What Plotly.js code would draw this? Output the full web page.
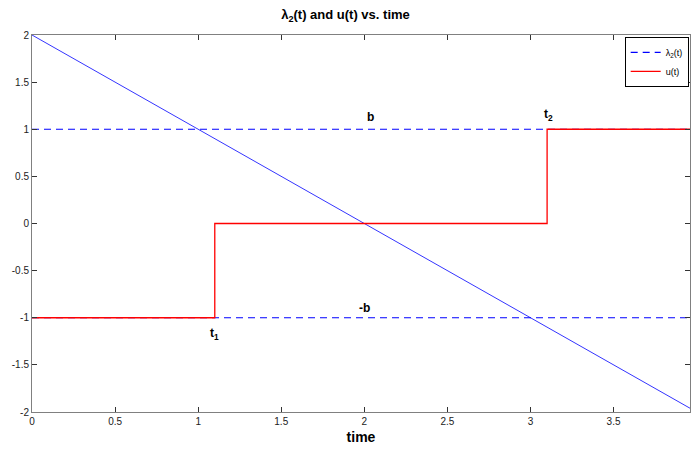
<!DOCTYPE html>
<html><head><meta charset="utf-8">
<script src="https://cdn.plot.ly/plotly-3.0.1.min.js"></script>
<style>html,body{margin:0;padding:0;background:#fff}#c{width:691px;height:451px}</style>
</head><body><div id="c"></div>
<script>
var tLambda = [0, 3.96];
var lambda2 = [2, -1.96];
var tBound = [0, 3.96];
var bUpper = [1, 1];
var bLower = [-1, -1];
var tU = [0, 1.1, 3.1, 3.96];
var uVals = [-1, 0, 1, 1];
var xTicks = [0, 0.5, 1, 1.5, 2, 2.5, 3, 3.5];
var yTicks = [-2, -1.5, -1, -0.5, 0, 0.5, 1, 1.5, 2];
var labels = [
  {x: 2.04, y: 1.13, text: 'b'},
  {x: 3.11, y: 1.15, text: 't<sub>2</sub>'},
  {x: 2.0, y: -0.9, text: '-b'},
  {x: 1.1, y: -1.17, text: 't<sub>1</sub>'}
];

var font = 'Liberation Sans, Arial, sans-serif';
var traces = [
  {x: tBound, y: bUpper, mode: 'lines', name: '&#955;<sub>2</sub>(t)', line: {color: '#0000ff', width: 1.2, dash: '7px,5px'}},
  {x: tBound, y: bLower, mode: 'lines', showlegend: false, line: {color: '#0000ff', width: 1.2, dash: '7px,5px'}},
  {x: tLambda, y: lambda2, mode: 'lines', showlegend: false, line: {color: '#0000ff', width: 0.8}},
  {x: tU, y: uVals, mode: 'lines', name: 'u(t)', line: {color: 'rgb(255,0,0)', width: 1.3, shape: 'hv'}}
];
function axisCommon() {
  return {
    showgrid: false, zeroline: false, zerolinecolor: 'rgba(0,0,0,0)', zerolinewidth: 0,
    showline: true, linecolor: '#808080', linewidth: 1,
    mirror: 'ticks', ticks: 'inside', ticklen: 5, tickcolor: '#333', tickwidth: 1,
    tickfont: {family: font, size: 10, color: '#222'}
  };
}
var xa = axisCommon();
xa.range = [0, 3.96]; xa.tickvals = xTicks; xa.ticktext = xTicks.map(String);
xa.title = {text: '<b>time</b>', font: {family: font, size: 14, color: '#000'}, standoff: 6};
var ya = axisCommon();
ya.range = [-2, 2]; ya.tickvals = yTicks; ya.ticktext = yTicks.map(String);
var layout = {
  width: 691, height: 451,
  margin: {l: 32, r: 1, t: 35, b: 39},
  paper_bgcolor: '#fff', plot_bgcolor: '#fff',
  title: {text: '<b>&#955;<sub>2</sub>(t) and u(t) vs. time</b>', font: {family: font, size: 13, color: '#000'}, x: 0.5, xanchor: 'center', y: 0.978, yanchor: 'top'},
  xaxis: xa,
  yaxis: ya,
  showlegend: true,
  legend: {x: 0.998, y: 0.995, xanchor: 'right', yanchor: 'top', bgcolor: '#fff', bordercolor: '#000', borderwidth: 1,
    font: {family: font, size: 9, color: '#000'}, tracegroupgap: 0, itemwidth: 30},
  annotations: labels.map(function(a){return {x: a.x, y: a.y, text: '<b>' + a.text + '</b>', showarrow: false,
    font: {family: font, size: 12, color: '#000'}, xanchor: 'center', yanchor: 'middle'};})
};
Plotly.newPlot('c', traces, layout, {displayModeBar: false, staticPlot: true});
</script></body></html>
